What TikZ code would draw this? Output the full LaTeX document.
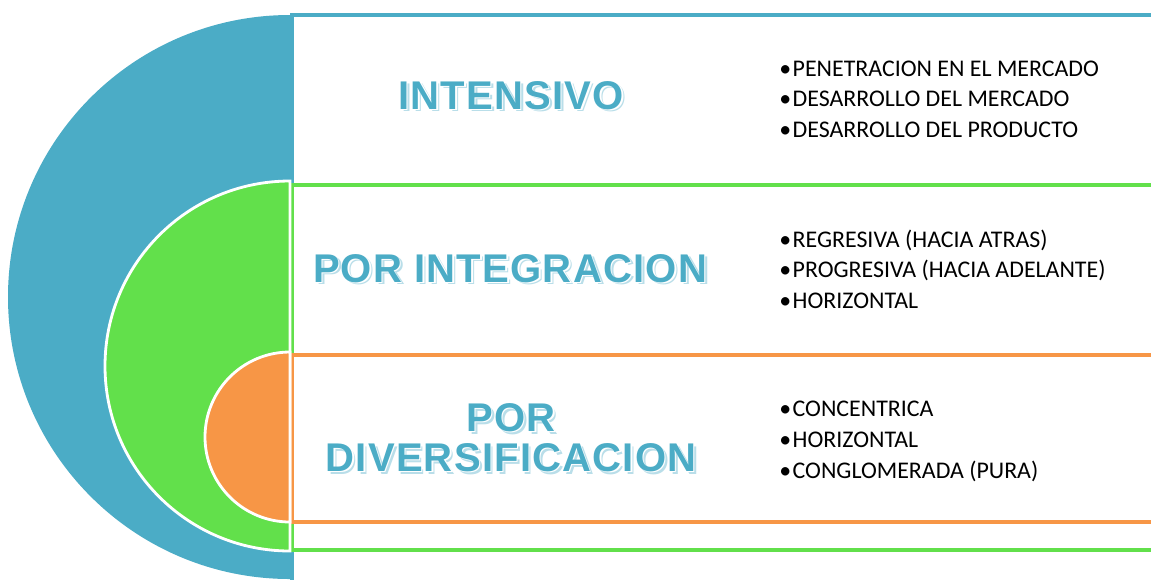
\documentclass[tikz,border=0pt]{standalone}
\usepackage{fontspec}
\setmainfont{Carlito}
\newfontfamily\titlefont[LetterSpace=3]{Liberation Sans}
\usetikzlibrary{calc}

\definecolor{tealblue}{HTML}{4BACC6}
\definecolor{limegreen}{HTML}{62E04B}
\definecolor{softorange}{HTML}{F79646}
\definecolor{paleblue}{HTML}{B9DEE9}

% title text with white rim and pale shadow
\newcommand{\glowtext}[1]{%
	\rlap{\kern1.7pt\raisebox{-1.7pt}{\textcolor{paleblue}{#1}}}%
	\rlap{\kern0.85pt\raisebox{-0.85pt}{\textcolor{white}{#1}}}#1}

\begin{document}
\begin{tikzpicture}[x=0.02cm,y=-0.02cm]
			\tikzstyle{band} = [fill=white,line width=2.27pt];
			\tikzstyle{titletext} = [anchor=base,inner sep=0,text=tealblue,font=\titlefont\bfseries\fontsize{22.8pt}{26pt}\selectfont];
			\tikzstyle{item} = [anchor=base west,inner sep=0,font=\fontsize{13.6pt}{17.6pt}\selectfont];
			\useasboundingbox (0,0) rectangle (1151,579);
			\clip (0,0) rectangle (1151,579);
			\fill[white] (0,0) rectangle (1151,579);
			% bands
			\draw[band,draw=tealblue] (292,15) rectangle (1180,620);
			\draw[band,draw=limegreen] (292,185) rectangle (1180,550);
			\draw[band,draw=softorange] (292,355) rectangle (1180,522);
			% half discs
			\fill[tealblue] (290,15) arc[start angle=270,end angle=90,radius=282] -- cycle;
			\draw[fill=limegreen,draw=white,line width=1.6pt] (290,181) arc[start angle=270,end angle=90,radius=185] -- cycle;
			\draw[fill=softorange,draw=white,line width=1.6pt] (290,352) arc[start angle=270,end angle=90,radius=85] -- cycle;
			% titles
			\node[titletext] (intensivo) at (511,109) {\glowtext{INTENSIVO}};
			\node[titletext] (integracion) at (510,282) {\glowtext{POR INTEGRACION}};
			\node[titletext] (por) at (511,431) {\glowtext{POR}};
			\node[titletext] (diversificacion) at (511,471) {\glowtext{DIVERSIFICACION}};
			% lists
			\foreach \txt [count=\i] in {PENETRACION EN EL MERCADO,DESARROLLO DEL MERCADO,DESARROLLO DEL PRODUCTO}
				\node[item] (a\i) at (779,{76+30.5*(\i-1)}) {•\kern0.8pt\txt};
			\foreach \txt [count=\i] in {REGRESIVA (HACIA ATRAS),PROGRESIVA (HACIA ADELANTE),HORIZONTAL}
				\node[item] (b\i) at (779,{247+30.5*(\i-1)}) {•\kern0.8pt\txt};
			\foreach \txt [count=\i] in {CONCENTRICA,HORIZONTAL,CONGLOMERADA (PURA)}
				\node[item] (c\i) at (779,{416+31*(\i-1)}) {•\kern0.8pt\txt};
\end{tikzpicture}
\end{document}
